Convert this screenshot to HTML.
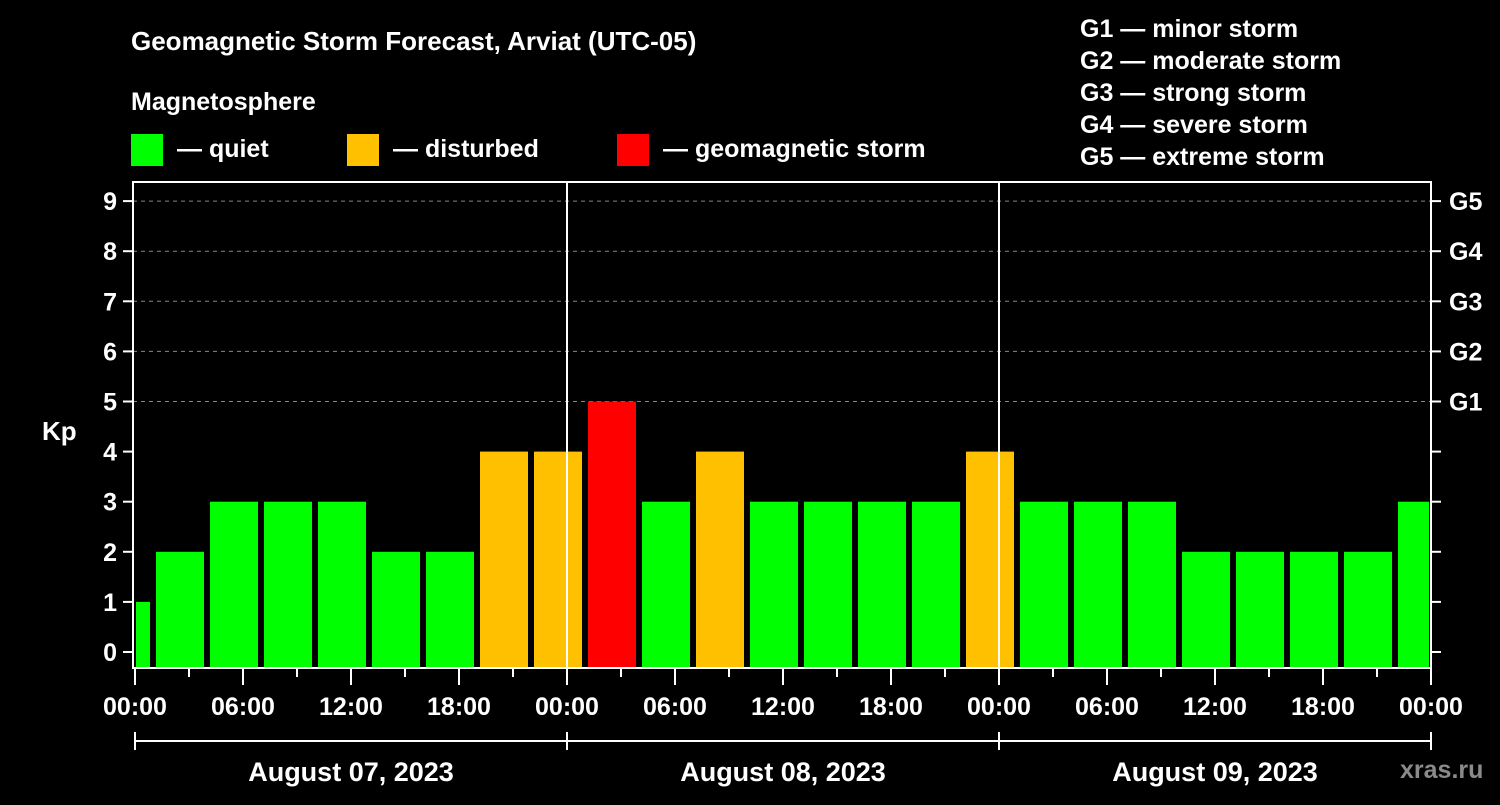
<!DOCTYPE html>
<html><head><meta charset="utf-8"><style>
html,body{margin:0;padding:0;background:#000;}
svg text{font-family:"Liberation Sans",Arial,sans-serif;font-weight:bold;fill:#fff;}
</style></head><body>
<svg id="c" width="1500" height="800" viewBox="0 0 1500 800">
<rect width="1500" height="800" fill="#000"/>
<text x="131" y="50" font-size="26">Geomagnetic Storm Forecast, Arviat (UTC-05)</text>
<text x="131" y="110" font-size="25">Magnetosphere</text>
<g><rect x="131" y="134" width="32" height="32" fill="#00ff00"/><text x="177" y="157" font-size="25">— quiet</text></g>
<g><rect x="347" y="134" width="32" height="32" fill="#ffc000"/><text x="393" y="157" font-size="25">— disturbed</text></g>
<g><rect x="617" y="134" width="32" height="32" fill="#ff0000"/><text x="663" y="157" font-size="25">— geomagnetic storm</text></g>
<g font-size="25">
<text x="1080" y="37">G1 — minor storm</text>
<text x="1080" y="69">G2 — moderate storm</text>
<text x="1080" y="101">G3 — strong storm</text>
<text x="1080" y="133">G4 — severe storm</text>
<text x="1080" y="165">G5 — extreme storm</text>
</g>
<text x="42" y="440" font-size="26">Kp</text>
<text x="1400" y="778" font-size="25" fill="#888" style="fill:#8a8a8a">xras.ru</text>
<g id="grid"></g><g id="bars"></g><g id="axes"></g>
</svg>
<script>
const kpValues=[1,2,3,3,3,2,2,4,4,5,3,4,3,3,3,3,4,3,3,3,2,2,2,2,3];
const yTicks=[0,1,2,3,4,5,6,7,8,9];
const gLabels=["G1","G2","G3","G4","G5"];
const hourLabels=["00:00","06:00","12:00","18:00"];
const dayLabels=["August 07, 2023","August 08, 2023","August 09, 2023"];
const NS="http://www.w3.org/2000/svg";
const X0=135,HPX=18,L=133,R=1431,T=182,B=668;
const x=h=>X0+h*HPX;
const y=v=>652-v*50.1;
function mk(tag,attrs,parent,txt){const e=document.createElementNS(NS,tag);for(const k in attrs)e.setAttribute(k,attrs[k]);if(txt!==undefined)e.textContent=txt;document.getElementById(parent).appendChild(e);return e;}
// grid
yTicks.forEach(v=>{if(v>=5){const g=mk('line',{x1:L,x2:R,y1:y(v),y2:y(v),stroke:'#888','stroke-dasharray':'4,4','stroke-width':1},'grid');

}});
// bars: slot k starts at hour -2+3k
kpValues.forEach((v,k)=>{const h0=-2+3*k;let x1=x(h0)+3,x2=x(h0+3)-3;x1=Math.max(x1,L+3);x2=Math.min(x2,R-2);
const col=v>=5?'#ff0000':(v>=4?'#ffc000':'#00ff00');
const r=mk('rect',{x:x1,y:y(v),width:x2-x1,height:B-y(v),fill:col},'bars');

});
// axes
const ax='axes';
mk('rect',{x:L,y:T,width:R-L,height:B-T,fill:'none',stroke:'#fff','stroke-width':2},ax);
[1,2].forEach(d=>{const l=mk('line',{x1:x(24*d),x2:x(24*d),y1:T,y2:B,stroke:'#fff','stroke-width':2},ax);

});
yTicks.forEach(v=>{mk('line',{x1:L-10,x2:L,y1:y(v),y2:y(v),stroke:'#fff','stroke-width':2},ax);
mk('line',{x1:R,x2:R+10,y1:y(v),y2:y(v),stroke:'#fff','stroke-width':2},ax);
const t=mk('text',{x:L-16,y:y(v)+9,'font-size':25,'text-anchor':'end'},ax,v);

});
gLabels.forEach((g,i)=>{const t=mk('text',{x:R+18,y:y(5+i)+9,'font-size':25},ax,g);

});
for(let h=0;h<=72;h+=3){const major=h%6===0;mk('line',{x1:x(h),x2:x(h),y1:B,y2:B+(major?17:9),stroke:'#fff','stroke-width':2},ax);
if(major){const t=mk('text',{x:x(h),y:B+47,'font-size':25,'text-anchor':'middle'},ax,hourLabels[(h/6)%4]);

}}
mk('line',{x1:x(0),x2:x(72),y1:741,y2:741,stroke:'#fff','stroke-width':2},ax);
for(let d=0;d<=3;d++)mk('line',{x1:x(24*d),x2:x(24*d),y1:732,y2:750,stroke:'#fff','stroke-width':2},ax);
dayLabels.forEach((s,d)=>{const t=mk('text',{x:x(24*d+12),y:781,'font-size':27,'text-anchor':'middle'},ax,s);

});
</script>
</body></html>
